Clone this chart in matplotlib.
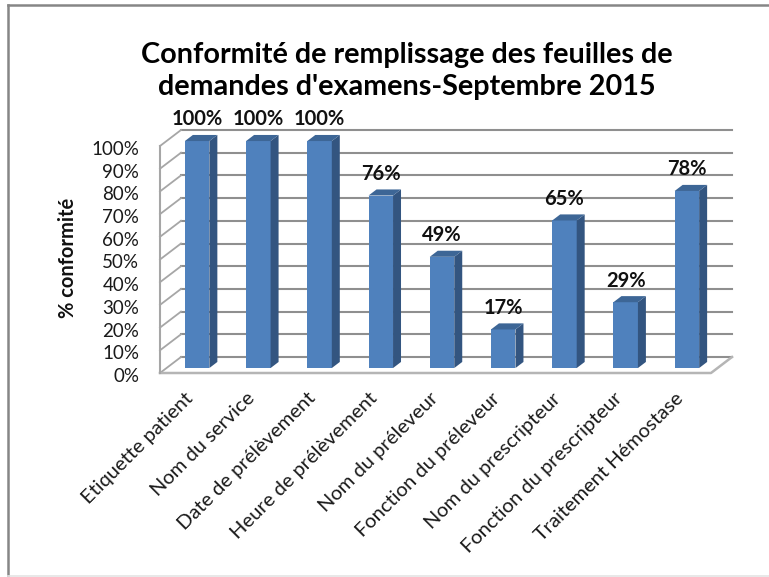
import numpy as np
import matplotlib
matplotlib.use("Agg")
import matplotlib.pyplot as plt
from matplotlib.lines import Line2D
from matplotlib.transforms import ScaledTranslation

categories = ["Etiquette patient", "Nom du service", "Date de prélèvement",
              "Heure de prélèvement", "Nom du préleveur", "Fonction du préleveur",
              "Nom du prescripteur", "Fonction du prescripteur", "Traitement Hémostase"]
values = [100, 100, 100, 76, 49, 17, 65, 29, 78]
y_ticks = [0, 10, 20, 30, 40, 50, 60, 70, 80, 90, 100]
title = "Conformité de remplissage des feuilles de\ndemandes d'examens-Septembre 2015"
y_title = "% conformité"

W, H = 769, 577
plt.rcParams["font.family"] = ["Lato", "DejaVu Sans"]

fig = plt.figure(figsize=(W / 100, H / 100), dpi=100)
# axes = front plane of the fake 3D box
ax = fig.add_axes([160 / W, 1 - 373 / H, 551 / W, 227 / H])
ax.set_xlim(-0.5, 8.5)
ax.set_ylim(0, 100)

# depth of the box, in data units
dx = 21 / 61.2
dy = 16 / 2.27
bar_front = 0.31
bar_back = 0.69
bar_w = 0.4
grid_c = "#8f8f8f"
x0, x1 = ax.get_xlim()

# walls and floor
for t in y_ticks:
    ax.plot([x0 + dx, x1 + dx], [t + dy, t + dy], color=grid_c, lw=1.5, zorder=1, clip_on=False)
    ax.plot([x0, x0 + dx], [t, t + dy], color="#a6a6a6", lw=1.3, zorder=1, clip_on=False)
ax.plot([x0, x1, x1 + dx], [0, 0, dy], color="#b5b5b5", lw=1.8, zorder=1, clip_on=False)
ax.plot([x0, x0], [0, 100], color="#a6a6a6", lw=1.5, zorder=1, clip_on=False)

# bars
pos = np.arange(len(values))
fx = pos + bar_front * dx
ax.bar(fx, values, width=bar_w, bottom=bar_front * dy, color="#4f81bd", zorder=3, clip_on=False)
off_x = (bar_back - bar_front) * dx
off_y = (bar_back - bar_front) * dy
for xc, v in zip(fx, values):
    l, r = xc - bar_w / 2, xc + bar_w / 2
    b, t = bar_front * dy, bar_front * dy + v
    ax.fill([r, r + off_x, r + off_x, r], [b, b + off_y, t + off_y, t], color="#335580", lw=0,
            zorder=3, clip_on=False)
    ax.fill([l, r, r + off_x, l + off_x], [t, t, t + off_y, t + off_y], color="#3d6696", lw=0,
            zorder=3, clip_on=False)
    ax.annotate(f"{v}%", (xc, t + off_y), xytext=(0, 4), textcoords="offset points",
                ha="center", va="bottom", fontsize=14.5, fontweight="bold", color="#111111",
                annotation_clip=False, zorder=4)

ax.patch.set_visible(False)
for s in ax.spines.values():
    s.set_visible(False)
ax.set_yticks(y_ticks)
ax.set_yticklabels([f"{t}%" for t in y_ticks], fontsize=13.5, color="#1a1a1a")
ax.set_xticks(pos)
ax.set_xticklabels(categories, rotation=45, ha="right", va="top", rotation_mode="anchor",
                   fontsize=14.5, color="#1a1a1a")
ax.tick_params(axis="both", length=0)
ax.tick_params(axis="y", pad=15)
ax.tick_params(axis="x", pad=12)

# nudge tick labels, 72 pts = 100 px here
for lab in ax.get_xticklabels():
    lab.set_transform(lab.get_transform() + ScaledTranslation(-6 / 100, 0, fig.dpi_scale_trans))
for lab in ax.get_yticklabels():
    lab.set_transform(lab.get_transform() + ScaledTranslation(0, -2 / 100, fig.dpi_scale_trans))

fig.text(407 / W, 1 - 71 / H, title, ha="center", va="center", fontsize=20.7, fontweight="bold",
         color="black", linespacing=1.33)
fig.text(68 / W, 1 - 258 / H, y_title, rotation=90, ha="center", va="center", fontsize=14.5,
         fontweight="bold", color="#111111")

# chart border, runs off the right edge
border = dict(transform=fig.transFigure)
fig.add_artist(Line2D([8 / W, 8 / W], [1 - 5 / H, 1 - 576 / H], color="#868686", lw=1.8, **border))
fig.add_artist(Line2D([8 / W, 1], [1 - 5 / H, 1 - 5 / H], color="#868686", lw=1.8, **border))
fig.add_artist(Line2D([8 / W, 1], [1 - 576 / H, 1 - 576 / H], color="#e4e4e4", lw=1.2, **border))

fig.savefig("out.png", dpi=100)
